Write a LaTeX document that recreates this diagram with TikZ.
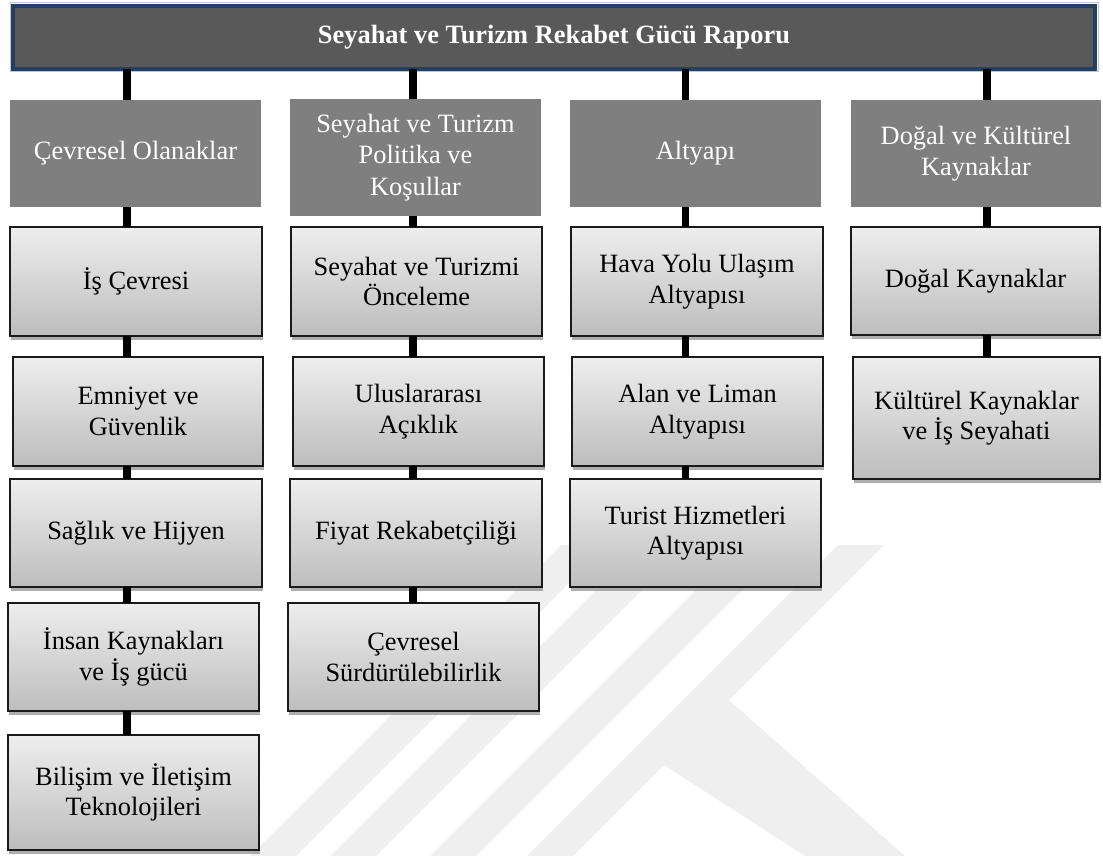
\documentclass[tikz,border=0pt]{standalone}
\usepackage{fontspec}
\setmainfont{Liberation Serif}
\usetikzlibrary{shadows}

\definecolor{titlefill}{HTML}{595959}
\definecolor{titleedge}{HTML}{243F60}
\definecolor{titlehalo}{HTML}{B8C8DC}
\definecolor{catfill}{HTML}{7F7F7F}
\definecolor{boxtop}{HTML}{EEEEEE}
\definecolor{boxbot}{HTML}{BDBDBD}
\definecolor{boxedge}{HTML}{1A1A1A}
\definecolor{markgray}{HTML}{EFEFEF}

% box from its corners: style, name, x1, y1, x2, y2, text
\newcommand\mkbox[7]{%
  \node[#1, minimum width={#5-#3}, minimum height={#6-#4}] (#2)
    at ({(#3+#5)/2},{(#4+#6)/2}) {#7};}

\begin{document}
\begin{tikzpicture}[x=1pt,y=-1pt,
  txt/.style={font=\fontsize{26.4}{30.5}\selectfont, align=center,
    inner sep=0pt, outer sep=0pt},
  titlebox/.style={txt, font=\fontsize{26.4}{30.5}\selectfont\bfseries,
    fill=titlefill, draw=titleedge, line width=4pt, text=white},
  catbox/.style={txt, font=\fontsize{26.4}{31.5}\selectfont,
    fill=catfill, text=white},
  subbox/.style={txt, draw=boxedge, line width=1.5pt,
    top color=boxtop, bottom color=boxbot, text=black,
    drop shadow={shadow xshift=1pt, shadow yshift=-4pt,
      fill=black!45, opacity=0.7}},
  link/.style={line width=7.3pt, black},
  markband/.style={fill=markgray, draw=none}]

\useasboundingbox (0,0) rectangle (1103,856);

% faint background emblem: slanted stripes and a descending leg
\foreach \s in {250,330,430,527}
  \fill[markband] (\s,856) -- (\s+46,856) -- (\s+357,545) -- (\s+311,545) -- cycle;
\fill[markband] (729,700) -- (905,856) -- (805,856) -- (664,765) -- cycle;

% heading bar
\draw[titlehalo, line width=1pt] (10,3) rectangle (1098,72);
\node[titlebox, minimum width=1082, minimum height=63] (title) at (554,37.5)
  {Seyahat ve Turizm Rekabet Gücü Raporu};

% pillars
\mkbox{catbox}{c1}{10}{100}{261}{207}{Çevresel Olanaklar}
\mkbox{catbox}{c2}{290}{99}{541}{216}{Seyahat ve Turizm\\Politika ve\\Koşullar}
\mkbox{catbox}{c3}{570}{100}{821}{207}{Altyapı}
\mkbox{catbox}{c4}{851}{100}{1101}{207}{Doğal ve Kültürel\\Kaynaklar}

% sub-indices
\mkbox{subbox}{s11}{10}{227}{262}{336}{İş Çevresi}
\mkbox{subbox}{s12}{13}{357}{263}{466}{Emniyet ve\\Güvenlik}
\mkbox{subbox}{s13}{10}{479}{262}{587}{Sağlık ve Hijyen}
\mkbox{subbox}{s14}{8}{603}{259}{711}{İnsan Kaynakları\\ve İş gücü}
\mkbox{subbox}{s15}{8}{735}{259}{850}{Bilişim ve İletişim\\Teknolojileri}

\mkbox{subbox}{s21}{291}{227}{542}{336}{Seyahat ve Turizmi\\Önceleme}
\mkbox{subbox}{s22}{293}{357}{544}{466}{Uluslararası\\Açıklık}
\mkbox{subbox}{s23}{290}{479}{542}{587}{Fiyat Rekabetçiliği}
\mkbox{subbox}{s24}{288}{603}{539}{711}{Çevresel\\Sürdürülebilirlik}

\mkbox{subbox}{s31}{571}{227}{823}{336}{Hava Yolu Ulaşım\\Altyapısı}
\mkbox{subbox}{s32}{572}{357}{823}{466}{Alan ve Liman\\Altyapısı}
\mkbox{subbox}{s33}{570}{479}{821}{587}{Turist Hizmetleri\\Altyapısı}

\mkbox{subbox}{s41}{851}{227}{1100}{335}{Doğal Kaynaklar}
\mkbox{subbox}{s42}{853}{357}{1100}{479}{Kültürel Kaynaklar\\ve İş Seyahati}

% connector columns
\coordinate (k1) at (127,0);
\coordinate (k2) at (413,0);
\coordinate (k3) at (685.5,0);
\coordinate (k4) at (987,0);

\foreach \a/\b in {title/c1, c1/s11, s11/s12, s12/s13, s13/s14, s14/s15}
  \draw[link] (k1 |- \a.south) -- (k1 |- \b.north);
\foreach \a/\b in {title/c2, c2/s21, s21/s22, s22/s23, s23/s24}
  \draw[link] (k2 |- \a.south) -- (k2 |- \b.north);
\foreach \a/\b in {title/c3, c3/s31, s31/s32, s32/s33}
  \draw[link] (k3 |- \a.south) -- (k3 |- \b.north);
\foreach \a/\b in {title/c4, c4/s41, s41/s42}
  \draw[link] (k4 |- \a.south) -- (k4 |- \b.north);

\end{tikzpicture}
\end{document}
